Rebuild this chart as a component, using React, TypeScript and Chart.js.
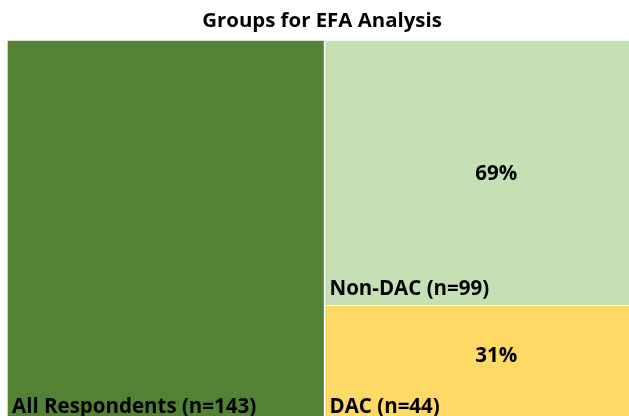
import React, { useEffect, useRef } from "react";
import { Chart, registerables } from "chart.js";

Chart.register(...registerables);

const titleText = "Groups for EFA Analysis";
const columns = ["All", "Subgroups"];
const allRespondents = [143, null];
const dacValues = [null, 44];
const nonDacValues = [null, 99];
const groupNames = ["All Respondents", "DAC", "Non-DAC"];

const FONT = "'Open Sans', Lato, sans-serif";

const labelPlugin = {
  id: "treeLabels",
  afterDatasetsDraw(chart: any) {
    const ctx = chart.ctx;
    const total = allRespondents[0] as number;
    ctx.save();
    // title
    ctx.fillStyle = "#000";
    ctx.font = `bold 20.4px ${FONT}`;
    ctx.textAlign = "center";
    ctx.textBaseline = "middle";
    ctx.fillText(titleText, 322, 21);

    const items = [
      { ds: 0, idx: 0, name: groupNames[0], val: allRespondents[0] as number, pct: false, pctOff: 0 },
      { ds: 1, idx: 1, name: groupNames[1], val: dacValues[1] as number, pct: true, pctOff: -8 },
      { ds: 2, idx: 1, name: groupNames[2], val: nonDacValues[1] as number, pct: true, pctOff: 2 },
    ];
    for (const it of items) {
      const el = chart.getDatasetMeta(it.ds).data[it.idx];
      if (!el) continue;
      const { x, y, base, width } = el.getProps(["x", "y", "base", "width"], true);
      const left = x - width / 2;
      const top = Math.min(y, base);
      const bottom = Math.max(y, base);
      ctx.font = `bold 20.5px ${FONT}`;
      ctx.textAlign = "left";
      ctx.textBaseline = "alphabetic";
      ctx.fillStyle = "#000";
      ctx.fillText(`${it.name} (n=${it.val})`, left + 5, bottom - 10);
      if (it.pct) {
        ctx.textAlign = "center";
        ctx.textBaseline = "middle";
        ctx.fillText(`${Math.round((it.val / total) * 100)}%`, x + 13, (top + bottom) / 2 + it.pctOff);
      }
    }
    ctx.restore();
  },
};

export default function App() {
  const ref = useRef<HTMLCanvasElement | null>(null);
  useEffect(() => {
    document.body.style.margin = "0";
    document.body.style.overflow = "hidden";
    const chart = new Chart(ref.current as HTMLCanvasElement, {
      type: "bar",
      data: {
        labels: columns,
        datasets: [
          { label: groupNames[0], data: allRespondents, backgroundColor: "#548235", borderColor: "#ffffff", borderWidth: 1, barPercentage: 1, categoryPercentage: 1 },
          { label: groupNames[1], data: dacValues, backgroundColor: "#FFD966", borderColor: "#ffffff", borderWidth: 1, barPercentage: 1, categoryPercentage: 1 },
          { label: groupNames[2], data: nonDacValues, backgroundColor: "#C5E0B4", borderColor: "#ffffff", borderWidth: 1, barPercentage: 1, categoryPercentage: 1 },
        ],
      },
      options: {
        animation: false,
        responsive: false,
        maintainAspectRatio: false,
        layout: { padding: { left: 7, top: 40, right: 0, bottom: 0 } },
        plugins: { legend: { display: false }, title: { display: false }, tooltip: { enabled: false } },
        scales: {
          x: { stacked: true, display: false },
          y: { stacked: true, display: false, min: 0, max: 143 },
        },
      },
      plugins: [labelPlugin],
    } as any);
    return () => chart.destroy();
  }, []);
  return (
    <div style={{ position: "fixed", left: 0, top: 0, width: 629, height: 416, overflow: "hidden", background: "#fff" }}>
      <canvas ref={ref} width={642} height={423} style={{ width: 642, height: 423 }} />
    </div>
  );
}
